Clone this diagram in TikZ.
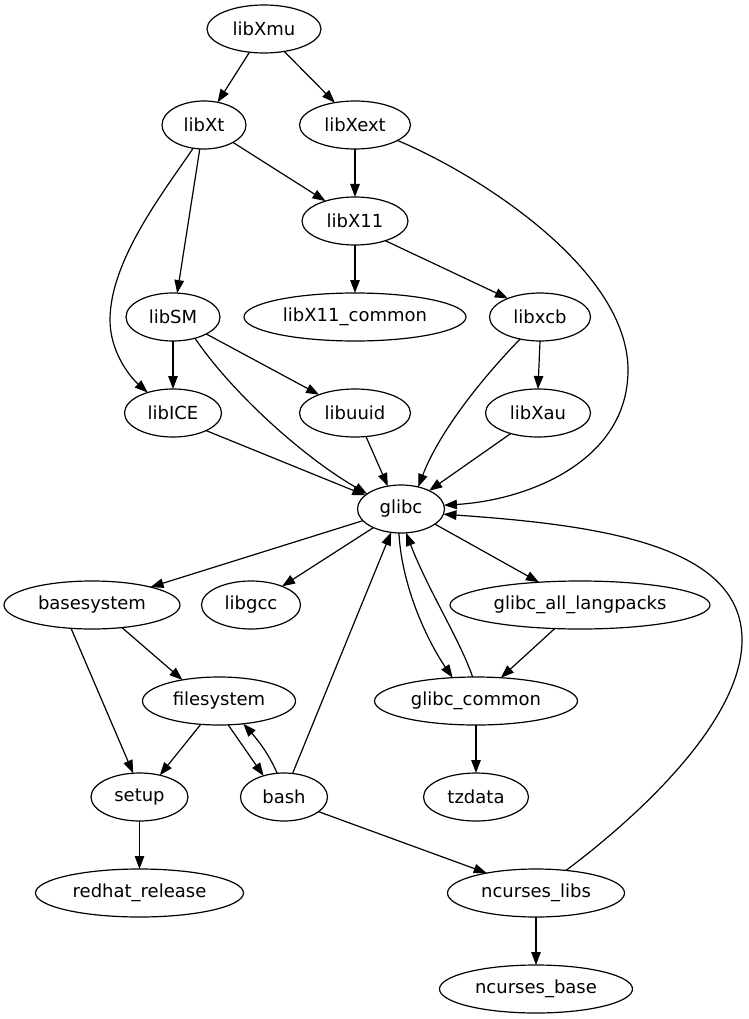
\documentclass[tikz,border=0pt]{standalone}
\usepackage{fontspec}
\setmainfont{DejaVu Sans}
\usetikzlibrary{arrows.meta,shapes.geometric}
\begin{document}
\begin{tikzpicture}[x=1pt,y=-1pt,
  nd/.style={draw, ellipse, line width=1.2pt, inner sep=0pt, outer sep=0pt,
    minimum height=48pt, font=\fontsize{18}{22}\selectfont},
  con/.style={draw, line width=1.2pt, -{Triangle[length=13pt,width=9.5pt]}}]
\useasboundingbox (0,0) rectangle (748,1019);
% nodes
\node[nd, minimum width=114pt] (libXmu) at (264,29) {libXmu};
\node[nd, minimum width=84pt] (libXt) at (204,125) {libXt};
\node[nd, minimum width=111pt] (libXext) at (355,125) {libXext};
\node[nd, minimum width=106pt] (libX11) at (355,221) {libX11};
\node[nd, minimum width=222pt] (libXcommon) at (355,317) {libX11\_common};
\node[nd, minimum width=101pt] (libxcb) at (540,317) {libxcb};
\node[nd, minimum width=94pt] (libSM) at (173,317) {libSM};
\node[nd, minimum width=97pt] (libICE) at (173,413) {libICE};
\node[nd, minimum width=111pt] (libuuid) at (355,413) {libuuid};
\node[nd, minimum width=105pt] (libXau) at (538,413) {libXau};
\node[nd, minimum width=87pt] (glibc) at (401,509) {glibc};
\node[nd, minimum width=176pt] (basesystem) at (92,605) {basesystem};
\node[nd, minimum width=99pt] (libgcc) at (251,605) {libgcc};
\node[nd, minimum width=260pt] (glibcall) at (580,605) {glibc\_all\_langpacks};
\node[nd, minimum width=153pt] (filesystem) at (219,701) {filesystem};
\node[nd, minimum width=203pt] (glibccommon) at (476,701) {glibc\_common};
\node[nd, minimum width=97pt] (setup) at (139.5,797) {setup};
\node[nd, minimum width=87pt] (bash) at (284,797) {bash};
\node[nd, minimum width=105pt] (tzdata) at (476,797) {tzdata};
\node[nd, minimum width=208pt] (redhat) at (139.5,893) {redhat\_release};
\node[nd, minimum width=177pt] (nclibs) at (536,893) {ncurses\_libs};
\node[nd, minimum width=193pt] (ncbase) at (536,989) {ncurses\_base};
% edges
\draw[con] (libXmu.-122) -- (libXt.59);
\draw[con] (libXmu.-48) -- (libXext.132);
\draw[con] (libXt.-31) -- (libX11.146);
\draw[con] (libXt.-100) -- (libSM.80);
\draw[con] (libXt.-115) .. controls (165,190) and (110,260) .. (110,320)
  .. controls (110,350) and (128,375) .. (libICE.141);
\draw[con] (libXext.south) -- (libX11.north);
\draw[con] (libXext.-20) .. controls (480,175) and (628,270) .. (628,370)
  .. controls (628,460) and (530,500) .. (glibc.5);
\draw[con] (libX11.south) -- (libXcommon.north);
\draw[con] (libX11.-33) -- (libxcb.150);
\draw[con] (libSM.south) -- (libICE.north);
\draw[con] (libSM.-44) .. controls (230,390) and (300,455) .. (glibc.156);
\draw[con] (libSM.-27) -- (libuuid.153);
\draw[con] (libxcb.-132) .. controls (485,375) and (440,430) .. (glibc.52);
\draw[con] (libxcb.south) -- (libXau.north);
\draw[con] (libICE.-28) -- (glibc.159);
\draw[con] (libuuid.-65) -- (glibc.120);
\draw[con] (libXau.-143) -- (glibc.33);
\draw[con] (glibc.-163) -- (basesystem.17);
\draw[con] (glibc.-146) -- (libgcc.31);
\draw[con] (glibc.-24) -- (glibcall.151);
\draw[con] (glibc.-95) .. controls (402,590) and (430,645) .. (glibccommon.135);
\draw[con] (glibccommon.98) .. controls (460,640) and (428,590) .. (glibc.-78);
\draw[con] (glibcall.-137) -- (glibccommon.43);
\draw[con] (basesystem.-37) -- (filesystem.150);
\draw[con] (basesystem.-132) -- (setup.105);
\draw[con] (filesystem.-128) -- (setup.47);
\draw[con] (filesystem.-69) -- (bash.134);
\draw[con] (bash.106) .. controls (268,752) and (256,738) .. (filesystem.-43);
\draw[con] (bash.70) -- (glibc.-113);
\draw[con] (bash.-23) -- (nclibs.158);
\draw[con] (glibccommon.south) -- (tzdata.north);
\draw[con] (setup.south) -- (redhat.north);
\draw[con] (nclibs.south) -- (ncbase.north);
\draw[con] (nclibs.37) .. controls (640,815) and (742,720) .. (742,640)
  .. controls (742,545) and (600,525) .. (glibc.-7);
\end{tikzpicture}
\end{document}
